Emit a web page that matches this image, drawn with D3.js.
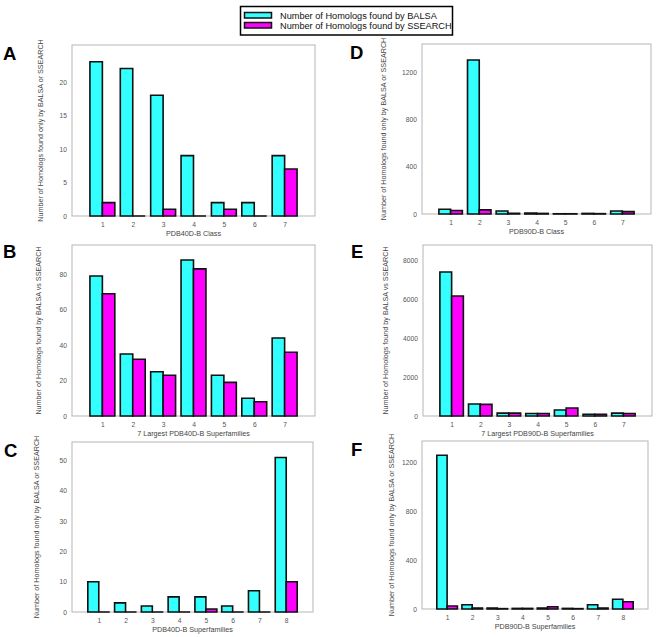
<!DOCTYPE html>
<html>
<head>
<meta charset="utf-8">
<script src="https://cdn.jsdelivr.net/npm/d3@7"></script>
<style>
  body { margin: 0; background: #fff; }
  svg { font-family: "Liberation Sans", Arial, sans-serif; }
</style>
</head>
<body>
<svg id="chart" width="656" height="637"></svg>
<script>
// categories
const classCats = ["1", "2", "3", "4", "5", "6", "7"];
const sfCats = ["1", "2", "3", "4", "5", "6", "7", "8"];

// A: PDB40D-B class, found only by one method
const balsaA = [23, 22, 18, 9, 2, 2, 9];
const ssearchA = [2, 0, 1, 0, 1, 0, 7];
// B: 7 largest PDB40D-B superfamilies
const balsaB = [79, 35, 25, 88, 23, 10, 44];
const ssearchB = [69, 32, 23, 83, 19, 8, 36];
// C: PDB40D-B superfamilies
const balsaC = [10, 3, 2, 5, 5, 2, 7, 51];
const ssearchC = [0, 0, 0, 0, 1, 0, 0, 10];
// D: PDB90D-B class
const balsaD = [40, 1305, 25, 8, 2, 5, 25];
const ssearchD = [30, 35, 5, 5, 2, 3, 20];
// E: 7 largest PDB90D-B superfamilies
const balsaE = [7420, 620, 150, 130, 310, 90, 150];
const ssearchE = [6180, 600, 150, 130, 410, 90, 130];
// F: PDB90D-B superfamilies
const balsaF = [1260, 35, 8, 5, 8, 5, 35, 80];
const ssearchF = [25, 8, 3, 5, 18, 3, 8, 60];

// tick values
const ticksA = [0, 5, 10, 15, 20];
const ticksB = [0, 20, 40, 60, 80];
const ticksC = [0, 10, 20, 30, 40, 50];
const ticksD = [0, 400, 800, 1200];
const ticksE = [0, 2000, 4000, 6000, 8000];
const ticksF = [0, 400, 800, 1200];

const yOnly = "Number of Homologs found only by BALSA or SSEARCH";
const yVs = "Number of Homologs found by BALSA vs SSEARCH";

const seriesNames = ["Number of Homologs found by BALSA", "Number of Homologs found by SSEARCH"];
const colors = ["#33ffff", "#ff00ff"];

const panels = [
  {letter: "A", cats: classCats, a: balsaA, b: ssearchA, ticks: ticksA, ymax: 25.5, xt: "PDB40D-B Class", yt: yOnly,
   box: [72, 45, 315, 216], lx: 3, ly: 60, ytx: 43},
  {letter: "B", cats: classCats, a: balsaB, b: ssearchB, ticks: ticksB, ymax: 96.5, xt: "7 Largest PDB40D-B Superfamilies", yt: yVs,
   box: [72, 245, 315, 416], lx: 3, ly: 258, ytx: 41},
  {letter: "C", cats: sfCats, a: balsaC, b: ssearchC, ticks: ticksC, ymax: 56.1, xt: "PDB40D-B Superfamilies", yt: yOnly,
   box: [72, 442, 313, 612], lx: 4, ly: 457, ytx: 39},
  {letter: "D", cats: classCats, a: balsaD, b: ssearchD, ticks: ticksD, ymax: 1440, xt: "PDB90D-B Class", yt: yOnly,
   box: [422, 44, 651, 214], lx: 350, ly: 59, ytx: 386},
  {letter: "E", cats: classCats, a: balsaE, b: ssearchE, ticks: ticksE, ymax: 8810, xt: "7 Largest PDB90D-B Superfamilies", yt: yVs,
   box: [423, 245, 652, 416], lx: 351, ly: 258, ytx: 388},
  {letter: "F", cats: sfCats, a: balsaF, b: ssearchF, ticks: ticksF, ymax: 1377, xt: "PDB90D-B Superfamilies", yt: yOnly,
   box: [422, 441, 648, 609], lx: 351, ly: 456, ytx: 394}
];

const svg = d3.select("#chart");

panels.forEach(function(p) {
  const [x0, y0, x1, y1] = p.box;
  const g = svg.append("g");

  const x = d3.scalePoint().domain(p.cats).range([x0, x1]).padding(1);
  const y = d3.scaleLinear().domain([0, p.ymax]).range([y1, y0]);
  const bw = x.step() * 0.41;

  g.append("rect")
    .attr("x", x0).attr("y", y0)
    .attr("width", x1 - x0).attr("height", y1 - y0)
    .attr("fill", "none").attr("stroke", "#b5b5b5").attr("stroke-width", 1);

  const rows = p.cats.map(function(c, i) { return {cat: c, vals: [p.a[i], p.b[i]]}; });
  rows.forEach(function(r) {
    r.vals.forEach(function(v, k) {
      // drawn as a path so zero values still show their outline
      const bx = x(r.cat) - bw + k * bw;
      const pth = d3.path();
      pth.rect(bx, y(v), bw, y(0) - y(v));
      g.append("path")
        .attr("d", pth.toString())
        .attr("fill", colors[k])
        .attr("stroke", "#111")
        .attr("stroke-width", 1.6);
    });
  });

  const ya = g.append("g")
    .attr("transform", `translate(${x0},0)`)
    .call(d3.axisLeft(y).tickValues(p.ticks).tickFormat(d3.format("d")).tickSize(0).tickPadding(5));
  ya.select(".domain").remove();
  ya.selectAll("text").attr("font-size", 6.7).attr("fill", "#555").attr("font-family", "inherit");

  const xa = g.append("g")
    .attr("transform", `translate(0,${y1})`)
    .call(d3.axisBottom(x).tickSize(0).tickPadding(6));
  xa.select(".domain").remove();
  xa.selectAll("text").attr("font-size", 6.7).attr("fill", "#555").attr("font-family", "inherit");

  g.append("text")
    .attr("x", (x0 + x1) / 2).attr("y", y1 + 20)
    .attr("text-anchor", "middle")
    .attr("font-size", 7.2).attr("fill", "#444")
    .text(p.xt);

  g.append("text")
    .attr("transform", `translate(${p.ytx},${(y0 + y1) / 2}) rotate(-90)`)
    .attr("text-anchor", "middle")
    .attr("font-size", 7.2).attr("fill", "#444")
    .text(p.yt);

  g.append("text")
    .attr("x", p.lx).attr("y", p.ly)
    .attr("font-size", 18.5).attr("font-weight", "bold").attr("fill", "#000")
    .text(p.letter);
});

// legend
const leg = svg.append("g");
leg.append("rect")
  .attr("x", 240.5).attr("y", 6.5).attr("width", 212).attr("height", 28.5)
  .attr("fill", "#fff").attr("stroke", "#000").attr("stroke-width", 1.5);
seriesNames.forEach(function(name, i) {
  leg.append("rect")
    .attr("x", 244.5).attr("y", 12.5 + i * 10).attr("width", 27).attr("height", 5.5)
    .attr("fill", colors[i]).attr("stroke", "#111").attr("stroke-width", 1.5);
  leg.append("text")
    .attr("x", 280).attr("y", 18.6 + i * 10)
    .attr("font-size", 9.2).attr("fill", "#111")
    .text(name);
});
</script>
</body>
</html>
